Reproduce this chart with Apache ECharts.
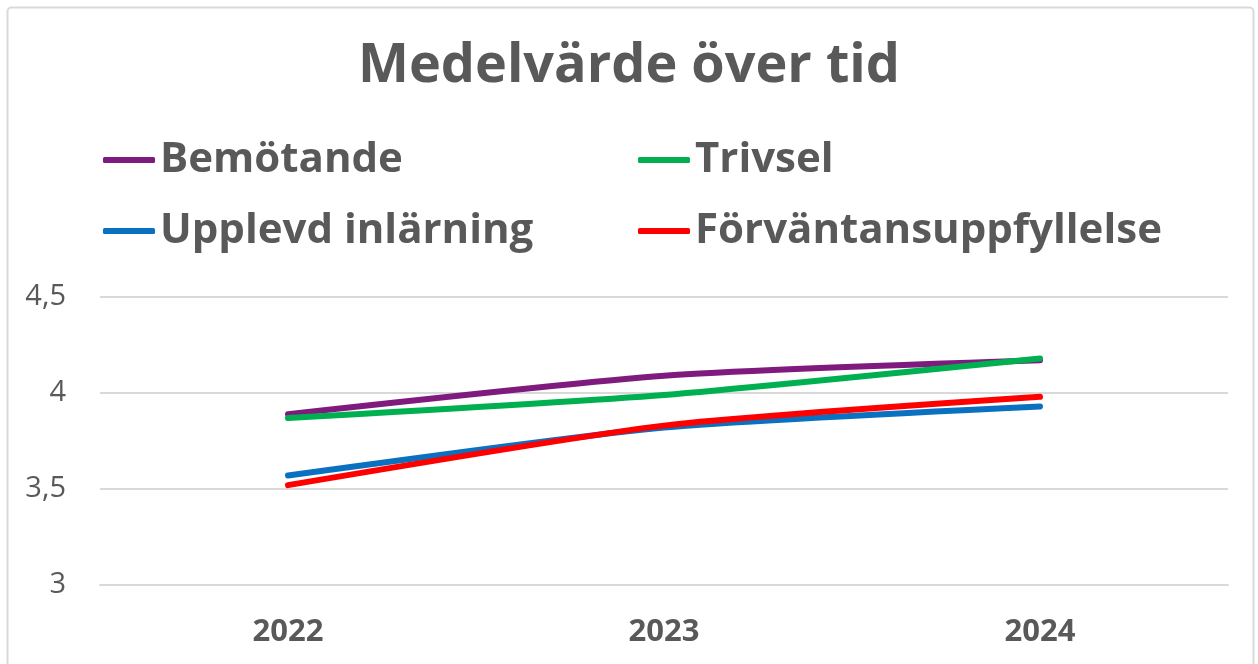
<!DOCTYPE html>
<html>
<head>
<meta charset="utf-8">
<script src="https://cdn.jsdelivr.net/npm/echarts@6/dist/echarts.min.js"></script>
<style>
html,body{margin:0;padding:0;background:#fff;}
#chart{width:1258px;height:664px;}
</style>
</head>
<body>
<div id="chart"></div>
<script>
const categories = ['2022', '2023', '2024'];
const bemotande = [3.89, 4.09, 4.17];
const trivsel = [3.87, 3.99, 4.18];
const upplevdInlarning = [3.57, 3.82, 3.93];
const forvantan = [3.52, 3.83, 3.98];
const yTicks = { min: 3, max: 4.5, interval: 0.5 };

const seriesDefs = [
  { name: 'Bemötande', data: bemotande, color: '#7F1A7F' },
  { name: 'Trivsel', data: trivsel, color: '#00B050' },
  { name: 'Upplevd inlärning', data: upplevdInlarning, color: '#0A70C0' },
  { name: 'Förväntansuppfyllelse', data: forvantan, color: '#FF0000' }
];
const legendPos = [[103, 139], [638, 139], [103, 210], [638, 210]];

const chart = echarts.init(document.getElementById('chart'), null, { renderer: 'canvas' });
const textColor = '#595959';
const legendText = { color: textColor, fontFamily: 'Open Sans', fontWeight: 'bold', fontSize: 42 };
chart.setOption({
  backgroundColor: '#fff',
  animation: false,
  graphic: [{
    type: 'rect', left: 5, top: 5,
    shape: { width: 1246, height: 664, r: 4 },
    style: { fill: 'none', stroke: '#d9d9d9', lineWidth: 2 }
  }],
  title: {
    text: 'Medelvärde över tid',
    left: 'center', top: 35,
    textStyle: { color: textColor, fontFamily: 'Open Sans', fontWeight: 'bold', fontSize: 54 }
  },
  legend: seriesDefs.map((s, i) => ({
    data: [s.name], left: legendPos[i][0], top: legendPos[i][1], padding: 0,
    itemWidth: 52, itemHeight: 6, itemGap: 5, icon: 'roundRect',
    textStyle: legendText
  })),
  grid: { left: 100, right: 30, top: 297, bottom: 79, containLabel: false },
  xAxis: {
    type: 'category', data: categories, boundaryGap: true,
    axisLine: { show: true, lineStyle: { color: '#d9d9d9', width: 2 } },
    axisTick: { show: false },
    axisLabel: { color: textColor, fontFamily: 'Open Sans', fontWeight: 'bold', fontSize: 31, margin: 32 }
  },
  yAxis: {
    type: 'value', min: yTicks.min, max: yTicks.max, interval: yTicks.interval,
    axisLine: { show: false }, axisTick: { show: false },
    splitLine: { lineStyle: { color: '#d9d9d9', width: 2 } },
    axisLabel: {
      color: textColor, fontFamily: 'Open Sans', fontSize: 29, margin: 34,
      formatter: v => String(v).replace('.', ',')
    }
  },
  series: seriesDefs.map(s => ({
    name: s.name, type: 'line', data: s.data, smooth: 0.2,
    showSymbol: false, symbol: 'none',
    lineStyle: { color: s.color, width: 6, cap: 'round' },
    itemStyle: { color: s.color }
  }))
});
</script>
</body>
</html>
